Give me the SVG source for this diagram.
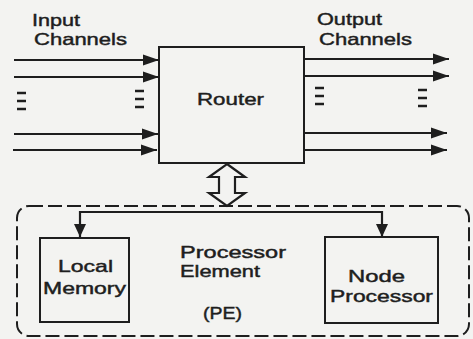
<svg xmlns="http://www.w3.org/2000/svg" width="473" height="339" viewBox="0 0 473 339">
<style>
  .bg { fill: #f3f3f1; }
  .box { fill: none; stroke: #1e1e1e; stroke-width: 2; }
  .line { fill: none; stroke: #1e1e1e; stroke-width: 2.2; }
  .dash { fill: none; stroke: #1e1e1e; stroke-width: 2; stroke-dasharray: 14 5; }
  .dots { stroke: #1e1e1e; stroke-width: 2.5; }
  text { font-family: "Liberation Sans", Arial, sans-serif; font-size: 17px; fill: #1e1e1e; stroke: #1e1e1e; stroke-width: 0.45; }
</style>
<defs>
  <marker id="ah" markerUnits="userSpaceOnUse" markerWidth="18" markerHeight="14" refX="16" refY="7" orient="auto">
    <path d="M0,1.5 L16,7 L0,12.5 Z" fill="#1e1e1e"/>
  </marker>
  <marker id="ahd" markerUnits="userSpaceOnUse" markerWidth="14" markerHeight="14" refX="13" refY="7" orient="auto">
    <path d="M0,1 L13,7 L0,13 Z" fill="#1e1e1e"/>
  </marker>
</defs>
<rect class="bg" x="0" y="0" width="473" height="339"/>

<g id="labels">
  <text x="32" y="26" textLength="48" lengthAdjust="spacingAndGlyphs">Input</text>
  <text x="34" y="45" textLength="93" lengthAdjust="spacingAndGlyphs">Channels</text>
  <text x="317" y="25" textLength="65" lengthAdjust="spacingAndGlyphs">Output</text>
  <text x="319" y="45" textLength="93" lengthAdjust="spacingAndGlyphs">Channels</text>
</g>

<g id="router">
  <rect class="box" x="159" y="47" width="145" height="116"/>
  <text x="197" y="105" textLength="67" lengthAdjust="spacingAndGlyphs">Router</text>
</g>

<g id="pe">
  <rect class="dash" x="17" y="206" width="452" height="130" rx="12" ry="12"/>
  <text x="180" y="258" textLength="106" lengthAdjust="spacingAndGlyphs">Processor</text>
  <text x="180" y="277" textLength="80" lengthAdjust="spacingAndGlyphs">Element</text>
  <text x="203" y="319" textLength="39" lengthAdjust="spacingAndGlyphs">(PE)</text>
</g>

<g id="local-memory">
  <rect class="box" x="40" y="238" width="89" height="84"/>
  <text x="58" y="272" textLength="55" lengthAdjust="spacingAndGlyphs">Local</text>
  <text x="43" y="294" textLength="83" lengthAdjust="spacingAndGlyphs">Memory</text>
</g>

<g id="node-processor">
  <rect class="box" x="325" y="237" width="113" height="86"/>
  <text x="348" y="282" textLength="57" lengthAdjust="spacingAndGlyphs">Node</text>
  <text x="330" y="302" textLength="103" lengthAdjust="spacingAndGlyphs">Processor</text>
</g>

<g id="connectors">
  <line class="line" x1="14" y1="60" x2="159" y2="60" marker-end="url(#ah)"/>
  <line class="line" x1="14" y1="77" x2="159" y2="77" marker-end="url(#ah)"/>
  <line class="line" x1="14" y1="134" x2="158" y2="134" marker-end="url(#ah)"/>
  <line class="line" x1="13" y1="150" x2="157" y2="150" marker-end="url(#ah)"/>

  <line class="line" x1="304" y1="59" x2="449" y2="59" marker-end="url(#ah)"/>
  <line class="line" x1="304" y1="76" x2="449" y2="76" marker-end="url(#ah)"/>
  <line class="line" x1="304" y1="133" x2="447" y2="133" marker-end="url(#ah)"/>
  <line class="line" x1="304" y1="150" x2="447" y2="150" marker-end="url(#ah)"/>

  <g class="dots">
    <line x1="17" y1="93" x2="26" y2="93"/><line x1="17" y1="101" x2="26" y2="101"/><line x1="17" y1="109" x2="26" y2="109"/>
    <line x1="135" y1="91" x2="144" y2="91"/><line x1="135" y1="99" x2="144" y2="99"/><line x1="135" y1="107" x2="144" y2="107"/>
    <line x1="315" y1="88" x2="324" y2="88"/><line x1="315" y1="96" x2="324" y2="96"/><line x1="315" y1="104" x2="324" y2="104"/>
    <line x1="418" y1="90" x2="427" y2="90"/><line x1="418" y1="98" x2="427" y2="98"/><line x1="418" y1="106" x2="427" y2="106"/>
  </g>

  <path class="line" d="M227,164 L245,177 L235,177 L235,193 L245,193 L227,206 L209,193 L219,193 L219,177 L209,177 Z" fill="#f3f3f1"/>

  <line class="line" x1="80" y1="212" x2="382" y2="212"/>
  <line class="line" x1="80" y1="211" x2="80" y2="237" marker-end="url(#ahd)"/>
  <line class="line" x1="382" y1="211" x2="382" y2="237" marker-end="url(#ahd)"/>
</g>
</svg>
